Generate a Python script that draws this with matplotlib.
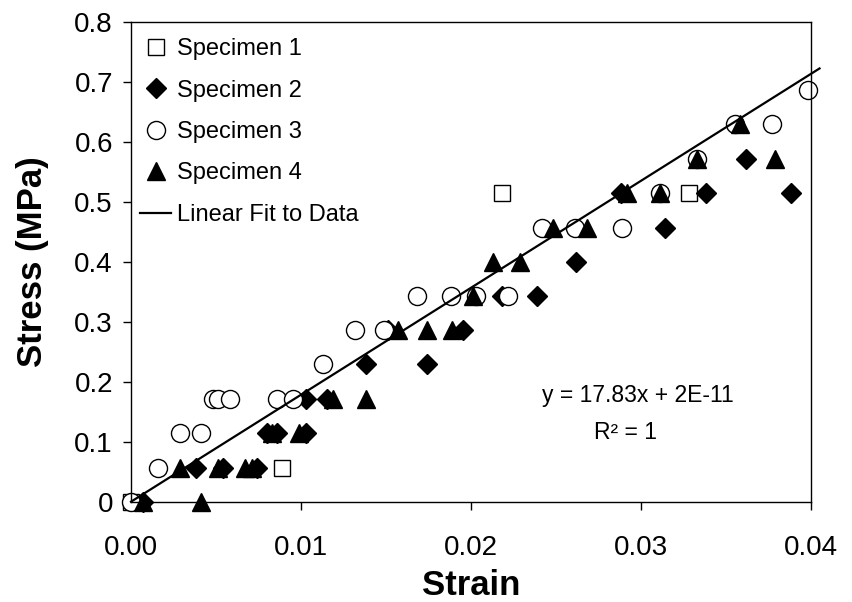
import matplotlib
matplotlib.use("Agg")
import matplotlib.pyplot as plt

plt.rcParams['font.family'] = ['Liberation Sans', 'DejaVu Sans']

# specimen data (strain, stress MPa)
s1_x = [0.0, 0.0089, 0.0218, 0.0328]
s1_y = [0.0, 0.057, 0.514, 0.514]

s2_x = [0.0007, 0.0038, 0.0054, 0.0074, 0.0080, 0.0086, 0.0103, 0.0103, 0.0115,
        0.0138, 0.0174, 0.0151, 0.0195, 0.0218, 0.0239, 0.0262, 0.0314, 0.0288,
        0.0338, 0.0388, 0.0362]
s2_y = [0.0, 0.057, 0.057, 0.057, 0.114, 0.114, 0.114, 0.171, 0.171,
        0.229, 0.229, 0.286, 0.286, 0.343, 0.343, 0.400, 0.457, 0.514,
        0.514, 0.514, 0.571]

s3_x = [0.0, 0.0016, 0.0029, 0.0041, 0.0048, 0.0051, 0.0058, 0.0086, 0.0095,
        0.0113, 0.0132, 0.0149, 0.0168, 0.0188, 0.0203, 0.0222, 0.0242, 0.0261,
        0.0289, 0.0311, 0.0333, 0.0355, 0.0377, 0.0398]
s3_y = [0.0, 0.057, 0.114, 0.114, 0.171, 0.171, 0.171, 0.171, 0.171,
        0.229, 0.286, 0.286, 0.343, 0.343, 0.343, 0.343, 0.457, 0.457,
        0.457, 0.514, 0.571, 0.629, 0.629, 0.686]

s4_x = [0.0007, 0.0041, 0.0029, 0.0051, 0.0067, 0.0071, 0.0083, 0.0099, 0.0119,
        0.0138, 0.0157, 0.0174, 0.0189, 0.0201, 0.0213, 0.0229, 0.0248, 0.0268,
        0.0292, 0.0311, 0.0333, 0.0358, 0.0379]
s4_y = [0.0, 0.0, 0.057, 0.057, 0.057, 0.057, 0.114, 0.114, 0.171,
        0.171, 0.286, 0.286, 0.286, 0.343, 0.400, 0.400, 0.457, 0.457,
        0.514, 0.514, 0.571, 0.629, 0.571]

slope = 17.83
intercept = 2e-11
fit_x = [0.0, 0.0405]
fit_y = [slope * v + intercept for v in fit_x]

xticks = [0.00, 0.01, 0.02, 0.03, 0.04]
xtick_labels = ['0.00', '0.01', '0.02', '0.03', '0.04']
yticks = [0, 0.1, 0.2, 0.3, 0.4, 0.5, 0.6, 0.7, 0.8]
ytick_labels = ['0', '0.1', '0.2', '0.3', '0.4', '0.5', '0.6', '0.7', '0.8']

fig = plt.figure(figsize=(8.52, 6.02), dpi=100)
ax = fig.add_axes([0.1538, 0.1666, 0.7981, 0.7973])

ax.plot(s1_x, s1_y, 's', ms=12, mfc='white', mec='black', mew=1, label='Specimen 1', clip_on=False)
ax.plot(s2_x, s2_y, 'D', ms=10, mfc='black', mec='black', label='Specimen 2', clip_on=False)
ax.plot(s3_x, s3_y, 'o', ms=13, mfc='white', mec='black', mew=1, label='Specimen 3', clip_on=False)
ax.plot(s4_x, s4_y, '^', ms=13, mfc='black', mec='black', label='Specimen 4', clip_on=False)
ax.plot(fit_x, fit_y, '-', color='black', lw=1.6, label='Linear Fit to Data', clip_on=False)

ax.set_xlim(0, 0.04)
ax.set_ylim(0, 0.8)
ax.set_xticks(xticks)
ax.set_xticklabels(xtick_labels)
ax.set_yticks(yticks)
ax.set_yticklabels(ytick_labels)
ax.tick_params(axis='both', direction='out', length=6, width=1, labelsize=20, colors='black')
ax.tick_params(axis='x', pad=18)
ax.tick_params(axis='y', pad=7)
for sp in ax.spines.values():
    sp.set_linewidth(1)

ax.set_xlabel('Strain', fontsize=25, fontweight='bold', labelpad=6)
ax.set_ylabel('Stress (MPa)', fontsize=25, fontweight='bold', labelpad=18)

ax.text(0.0298, 0.177, 'y = 17.83x + 2E-11', fontsize=16.5, ha='center', va='center')
ax.text(0.0291, 0.115, 'R\u00b2 = 1', fontsize=16.5, ha='center', va='center')

ax.legend(loc='upper left', frameon=False, fontsize=17, handlelength=1.3,
          handletextpad=0.25, labelspacing=0.82, borderaxespad=0.0, borderpad=0.4,
          bbox_to_anchor=(0.0, 0.985))

fig.savefig('out.png', dpi=100)
